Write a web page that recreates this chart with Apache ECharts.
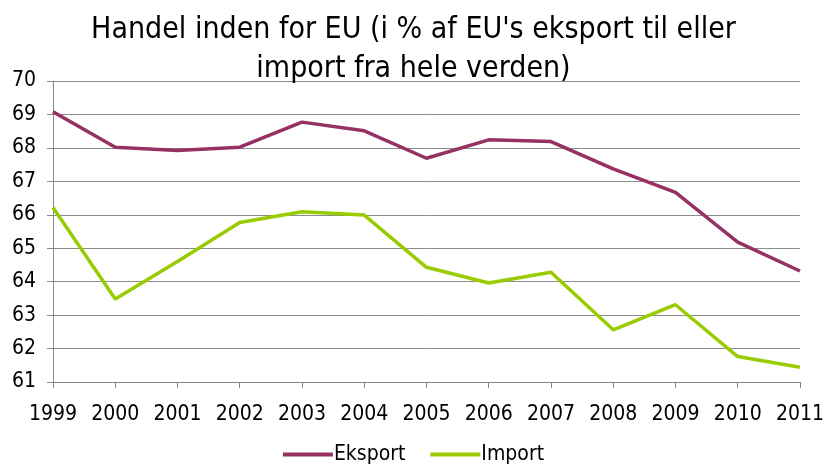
<!DOCTYPE html>
<html><head><meta charset="utf-8">
<script src="https://cdn.jsdelivr.net/npm/echarts@6/dist/echarts.min.js"></script>
<style>html,body{margin:0;padding:0;background:#fff}#c{width:827px;height:468px}</style>
</head><body><div id="c"></div>
<script>
const years = ['1999','2000','2001','2002','2003','2004','2005','2006','2007','2008','2009','2010','2011'];
const eksport = [69.08,68.02,67.92,68.02,68.77,68.51,67.69,68.24,68.19,67.37,66.67,65.18,64.32];
const importVals = [66.22,63.48,64.6,65.77,66.09,65.99,64.43,63.96,64.28,62.56,63.31,61.76,61.44];
const titleText = "Handel inden for EU (i % af EU's eksport til eller\nimport fra hele verden)";
const FONT = '"DejaVu Sans Condensed", sans-serif';
const chart = echarts.init(document.getElementById('c'));
chart.setOption({
  animation:false,
  title:{text:titleText,left:'center',top:6,textStyle:{fontFamily:FONT,fontSize:30,fontWeight:'normal',color:'#000',lineHeight:39}},
  grid:{left:53,right:25,top:81,bottom:86,containLabel:false},
  legend:{bottom:-2,left:'center',itemWidth:50,itemHeight:4,itemGap:25,icon:'rect',
    textStyle:{fontFamily:FONT,fontSize:21,color:'#000',padding:[0,0,0,-4]},data:['Eksport','Import']},
  xAxis:{type:'category',data:years,boundaryGap:false,
    axisLine:{lineStyle:{color:'#888',width:1}},
    axisTick:{show:true,length:6,interval:0,lineStyle:{color:'#888'}},
    axisLabel:{fontFamily:FONT,fontSize:21,color:'#000',margin:22,interval:0,hideOverlap:false}},
  yAxis:{type:'value',min:61,max:70,interval:1,
    axisLine:{show:true,lineStyle:{color:'#888'}},
    axisTick:{show:true,length:6,lineStyle:{color:'#888'}},
    axisLabel:{fontFamily:FONT,fontSize:21,color:'#000',margin:17},
    splitLine:{lineStyle:{color:'#8c8c8c',width:1}}},
  series:[
    {name:'Eksport',type:'line',data:eksport,symbol:'none',lineStyle:{color:'#953163',width:3.5},itemStyle:{color:'#953163'}},
    {name:'Import',type:'line',data:importVals,symbol:'none',lineStyle:{color:'#99cc00',width:3.5},itemStyle:{color:'#99cc00'}}
  ]
});
</script></body></html>
